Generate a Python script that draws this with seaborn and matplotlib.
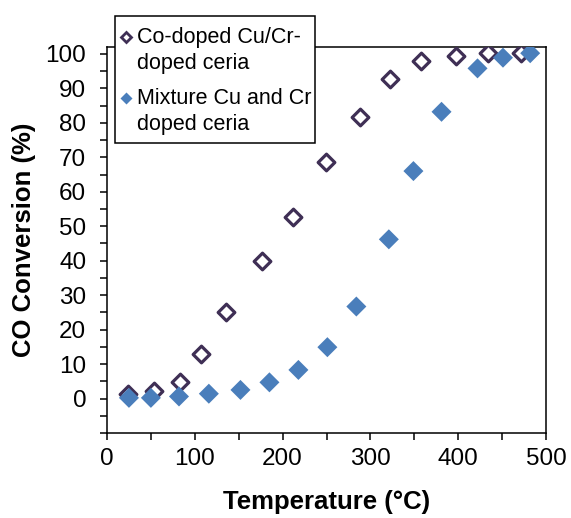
import numpy as np
import pandas as pd
import matplotlib
matplotlib.use("Agg")
import matplotlib.pyplot as plt
from matplotlib.lines import Line2D
from matplotlib.patches import Rectangle
from matplotlib.legend_handler import HandlerLine2D
from matplotlib.ticker import MultipleLocator, FixedLocator, FixedFormatter
import seaborn as sns

# Co-doped Cu/Cr-doped ceria (open diamonds)
co_temp = [24, 54, 83, 107, 135, 176, 212, 249, 288, 322, 358, 397, 434, 471]
co_conv = [1.4, 2.3, 4.9, 13.0, 25.1, 39.9, 52.7, 68.6, 81.6, 92.7, 97.8, 99.5, 100.2, 100.2]

# Mixture Cu and Cr doped ceria (filled diamonds)
mix_temp = [25, 50, 82, 116, 152, 185, 218, 251, 284, 321, 349, 381, 422, 451, 482]
mix_conv = [0.2, 0.2, 0.6, 1.4, 2.5, 4.7, 8.3, 14.9, 26.7, 46.2, 66.0, 83.2, 95.8, 98.9, 100.2]

labels = ["Co-doped Cu/Cr-\ndoped ceria", "Mixture Cu and Cr\ndoped ceria"]
y_tick_vals = list(range(-10, 101, 10))
y_tick_labels = [""] + [str(v) for v in range(0, 101, 10)]

purple = "#3f2f55"
blue = "#4a7ebb"

W, H = 571, 518


class TopLineHandler(HandlerLine2D):
    # put the legend marker on the first text line, like the original
    def create_artists(self, legend, orig_handle, xdescent, ydescent,
                       width, height, fontsize, trans):
        arts = super().create_artists(legend, orig_handle, xdescent, ydescent,
                                      width, height, fontsize, trans)
        for a in arts:
            a.set_ydata(np.asarray(a.get_ydata()) + 0.65 * fontsize)
        return arts


def main():
    sns.set_style("ticks")
    plt.rcParams["font.family"] = ["Liberation Sans", "DejaVu Sans"]
    for k in ["text.color", "axes.labelcolor", "xtick.color", "ytick.color", "axes.edgecolor"]:
        plt.rcParams[k] = "black"

    co = pd.DataFrame({"T": co_temp, "X": co_conv})
    mix = pd.DataFrame({"T": mix_temp, "X": mix_conv})

    fig = plt.figure(figsize=(W / 100, H / 100), dpi=100)
    ax = fig.add_axes([107 / W, 1 - 433 / H, (546 - 107) / W, (433 - 47) / H])

    sns.scatterplot(data=co, x="T", y="X", ax=ax, marker="D", s=72,
                    facecolor="white", edgecolor=purple, linewidth=2.3,
                    legend=False, zorder=3)
    sns.scatterplot(data=mix, x="T", y="X", ax=ax, marker="D", s=104,
                    color=blue, edgecolor="none", linewidth=0,
                    legend=False, zorder=4)

    ax.set_xlim(0, 500)
    ax.set_ylim(-10, 102)
    ax.xaxis.set_major_locator(MultipleLocator(100))
    ax.xaxis.set_minor_locator(MultipleLocator(50))
    ax.yaxis.set_major_locator(FixedLocator(y_tick_vals))
    ax.yaxis.set_major_formatter(FixedFormatter(y_tick_labels))
    ax.yaxis.set_minor_locator(MultipleLocator(5))

    ax.tick_params(axis="both", which="both", direction="out", length=5,
                   width=1.1, color="black", labelsize=17.5, labelcolor="black")
    ax.tick_params(axis="y", which="major", pad=10)
    ax.tick_params(axis="x", which="major", pad=6)

    for sp in ax.spines.values():
        sp.set_visible(True)
        sp.set_color("black")
        sp.set_linewidth(1.1)

    ax.set_xlabel("Temperature (°C)", fontsize=18.5, fontweight="bold", labelpad=14)
    ax.set_ylabel("CO Conversion (%)", fontsize=18.5, fontweight="bold", labelpad=7)

    # legend box drawn by hand: Excel pads it more at top/bottom than at the sides
    box = Rectangle((115 / W, 1 - 143 / H), 200 / W, 127 / H,
                    transform=fig.transFigure, facecolor="white",
                    edgecolor="black", linewidth=1.1, zorder=5)
    fig.patches.append(box)

    handles = [
        Line2D([], [], linestyle="none", marker="D", markersize=5.5,
               markerfacecolor="white", markeredgecolor=purple, markeredgewidth=2),
        Line2D([], [], linestyle="none", marker="D", markersize=6.5,
               markerfacecolor=blue, markeredgecolor="none"),
    ]
    leg = fig.legend(handles, labels, loc="upper left",
                     bbox_to_anchor=(121 / W, 1 - 27 / H),
                     bbox_transform=fig.transFigure, borderaxespad=0,
                     borderpad=0, fontsize=15.5, frameon=False,
                     handlelength=0.45, handletextpad=0.3, labelspacing=0.68,
                     handler_map={Line2D: TopLineHandler()})
    leg.set_zorder(6)
    for t in leg.get_texts():
        t.set_linespacing(1.3)

    fig.savefig("out.png", dpi=100)
    plt.close(fig)


if __name__ == "__main__":
    main()
